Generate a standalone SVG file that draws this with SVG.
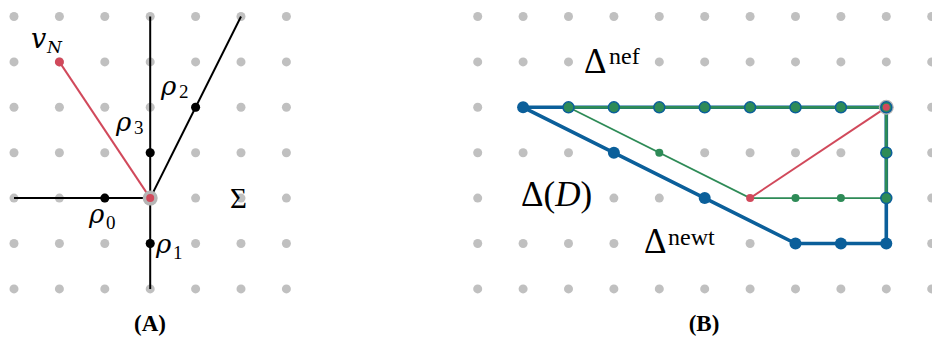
<svg xmlns="http://www.w3.org/2000/svg" width="932" height="338" viewBox="0 0 932 338">
<style>
.g{fill:#c0c0c0}
.blk{stroke:#000;stroke-width:2;fill:none}
.bl{stroke:#0b5f9a;stroke-width:3.6;fill:none;stroke-linejoin:round}
.gr{stroke:#2e8b57;stroke-width:2.8;fill:none}
.grt{stroke:#2e8b57;stroke-width:1.8;fill:none}
.rd{stroke:#d1495b;stroke-width:2;fill:none}
.bd{fill:#0b5f9a}
.gd{fill:#2e8b57;stroke:#0b5f9a;stroke-width:1.5}
.gs{fill:#2e8b57}
.rdd{fill:#d1495b}
.kd{fill:#000}
.halo{fill:#b5b5b5}
.m{font-family:"DejaVu Serif","Liberation Serif",serif;font-style:italic;fill:#000}
.r{font-family:"Liberation Serif","DejaVu Serif",serif;fill:#000}
.cap{font-family:"Liberation Serif","DejaVu Serif",serif;font-weight:bold;font-size:23px;text-anchor:middle;fill:#000}
</style>
<rect width="932" height="338" fill="#fff"/>
<g id="grid-A">
<circle class="g" cx="14" cy="16.5" r="4.5"/><circle class="g" cx="59.4" cy="16.5" r="4.5"/><circle class="g" cx="104.8" cy="16.5" r="4.5"/><circle class="g" cx="150.2" cy="16.5" r="4.5"/><circle class="g" cx="195.6" cy="16.5" r="4.5"/><circle class="g" cx="241" cy="16.5" r="4.5"/><circle class="g" cx="286.4" cy="16.5" r="4.5"/>
<circle class="g" cx="14" cy="61.9" r="4.5"/><circle class="g" cx="59.4" cy="61.9" r="4.5"/><circle class="g" cx="104.8" cy="61.9" r="4.5"/><circle class="g" cx="150.2" cy="61.9" r="4.5"/><circle class="g" cx="195.6" cy="61.9" r="4.5"/><circle class="g" cx="241" cy="61.9" r="4.5"/><circle class="g" cx="286.4" cy="61.9" r="4.5"/>
<circle class="g" cx="14" cy="107.3" r="4.5"/><circle class="g" cx="59.4" cy="107.3" r="4.5"/><circle class="g" cx="104.8" cy="107.3" r="4.5"/><circle class="g" cx="150.2" cy="107.3" r="4.5"/><circle class="g" cx="195.6" cy="107.3" r="4.5"/><circle class="g" cx="241" cy="107.3" r="4.5"/><circle class="g" cx="286.4" cy="107.3" r="4.5"/>
<circle class="g" cx="14" cy="152.7" r="4.5"/><circle class="g" cx="59.4" cy="152.7" r="4.5"/><circle class="g" cx="104.8" cy="152.7" r="4.5"/><circle class="g" cx="150.2" cy="152.7" r="4.5"/><circle class="g" cx="195.6" cy="152.7" r="4.5"/><circle class="g" cx="241" cy="152.7" r="4.5"/><circle class="g" cx="286.4" cy="152.7" r="4.5"/>
<circle class="g" cx="14" cy="198.1" r="4.5"/><circle class="g" cx="59.4" cy="198.1" r="4.5"/><circle class="g" cx="104.8" cy="198.1" r="4.5"/><circle class="g" cx="195.6" cy="198.1" r="4.5"/><circle class="g" cx="241" cy="198.1" r="4.5"/><circle class="g" cx="286.4" cy="198.1" r="4.5"/>
<circle class="g" cx="14" cy="243.5" r="4.5"/><circle class="g" cx="59.4" cy="243.5" r="4.5"/><circle class="g" cx="104.8" cy="243.5" r="4.5"/><circle class="g" cx="150.2" cy="243.5" r="4.5"/><circle class="g" cx="195.6" cy="243.5" r="4.5"/><circle class="g" cx="241" cy="243.5" r="4.5"/><circle class="g" cx="286.4" cy="243.5" r="4.5"/>
<circle class="g" cx="14" cy="288.9" r="4.5"/><circle class="g" cx="59.4" cy="288.9" r="4.5"/><circle class="g" cx="104.8" cy="288.9" r="4.5"/><circle class="g" cx="150.2" cy="288.9" r="4.5"/><circle class="g" cx="195.6" cy="288.9" r="4.5"/><circle class="g" cx="241" cy="288.9" r="4.5"/><circle class="g" cx="286.4" cy="288.9" r="4.5"/>
</g>
<g id="grid-B">
<circle class="g" cx="477.7" cy="16.5" r="4.5"/><circle class="g" cx="523.1" cy="16.5" r="4.5"/><circle class="g" cx="568.5" cy="16.5" r="4.5"/><circle class="g" cx="613.9" cy="16.5" r="4.5"/><circle class="g" cx="659.3" cy="16.5" r="4.5"/><circle class="g" cx="704.7" cy="16.5" r="4.5"/><circle class="g" cx="750.1" cy="16.5" r="4.5"/><circle class="g" cx="795.5" cy="16.5" r="4.5"/><circle class="g" cx="840.9" cy="16.5" r="4.5"/><circle class="g" cx="886.3" cy="16.5" r="4.5"/><circle class="g" cx="931.7" cy="16.5" r="4.5"/>
<circle class="g" cx="477.7" cy="61.9" r="4.5"/><circle class="g" cx="523.1" cy="61.9" r="4.5"/><circle class="g" cx="568.5" cy="61.9" r="4.5"/><circle class="g" cx="659.3" cy="61.9" r="4.5"/><circle class="g" cx="704.7" cy="61.9" r="4.5"/><circle class="g" cx="750.1" cy="61.9" r="4.5"/><circle class="g" cx="795.5" cy="61.9" r="4.5"/><circle class="g" cx="840.9" cy="61.9" r="4.5"/><circle class="g" cx="886.3" cy="61.9" r="4.5"/><circle class="g" cx="931.7" cy="61.9" r="4.5"/>
<circle class="g" cx="477.7" cy="107.3" r="4.5"/><circle class="g" cx="931.7" cy="107.3" r="4.5"/>
<circle class="g" cx="477.7" cy="152.7" r="4.5"/><circle class="g" cx="523.1" cy="152.7" r="4.5"/><circle class="g" cx="568.5" cy="152.7" r="4.5"/><circle class="g" cx="704.7" cy="152.7" r="4.5"/><circle class="g" cx="750.1" cy="152.7" r="4.5"/><circle class="g" cx="795.5" cy="152.7" r="4.5"/><circle class="g" cx="840.9" cy="152.7" r="4.5"/><circle class="g" cx="931.7" cy="152.7" r="4.5"/>
<circle class="g" cx="477.7" cy="198.1" r="4.5"/><circle class="g" cx="613.9" cy="198.1" r="4.5"/><circle class="g" cx="659.3" cy="198.1" r="4.5"/><circle class="g" cx="931.7" cy="198.1" r="4.5"/>
<circle class="g" cx="477.7" cy="243.5" r="4.5"/><circle class="g" cx="523.1" cy="243.5" r="4.5"/><circle class="g" cx="568.5" cy="243.5" r="4.5"/><circle class="g" cx="613.9" cy="243.5" r="4.5"/><circle class="g" cx="750.1" cy="243.5" r="4.5"/><circle class="g" cx="931.7" cy="243.5" r="4.5"/>
<circle class="g" cx="477.7" cy="288.9" r="4.5"/><circle class="g" cx="523.1" cy="288.9" r="4.5"/><circle class="g" cx="568.5" cy="288.9" r="4.5"/><circle class="g" cx="613.9" cy="288.9" r="4.5"/><circle class="g" cx="659.3" cy="288.9" r="4.5"/><circle class="g" cx="704.7" cy="288.9" r="4.5"/><circle class="g" cx="750.1" cy="288.9" r="4.5"/><circle class="g" cx="795.5" cy="288.9" r="4.5"/><circle class="g" cx="840.9" cy="288.9" r="4.5"/><circle class="g" cx="886.3" cy="288.9" r="4.5"/><circle class="g" cx="931.7" cy="288.9" r="4.5"/>
</g>
<g id="connectors">
<line class="blk" x1="14" y1="198.1" x2="150.2" y2="198.1"/>
<line class="blk" x1="150.2" y1="16.5" x2="150.2" y2="288.9"/>
<line class="blk" x1="150.2" y1="198.1" x2="241" y2="16.5"/>
<line class="rd" x1="59.4" y1="61.9" x2="150.2" y2="198.1"/>
<polygon class="bl" points="523.1,107.3 886.3,107.3 886.3,243.5 795.5,243.5"/>
<polyline class="gr" points="568.5,107.3 886.3,107.3 886.3,198.1"/>
<polyline class="grt" points="886.3,198.1 750.1,198.1 568.5,107.3"/>
<line class="rd" x1="750.1" y1="198.1" x2="886.3" y2="107.3"/>
</g>
<g id="center-A"><circle class="halo" cx="150.2" cy="198.1" r="7.5"/><circle class="rdd" cx="150.2" cy="198.1" r="4"/></g>
<g id="vN"><circle class="rdd" cx="59.4" cy="61.9" r="4.5"/></g>
<g id="rho0"><circle class="kd" cx="104.8" cy="198.1" r="4.5"/></g>
<g id="rho1"><circle class="kd" cx="150.2" cy="243.5" r="4.5"/></g>
<g id="rho2"><circle class="kd" cx="195.6" cy="107.3" r="4.5"/></g>
<g id="rho3"><circle class="kd" cx="150.2" cy="152.7" r="4.5"/></g>
<g id="newt-vertices">
<circle class="bd" cx="523.1" cy="107.3" r="6"/><circle class="bd" cx="613.9" cy="152.7" r="6"/><circle class="bd" cx="704.7" cy="198.1" r="6"/><circle class="bd" cx="795.5" cy="243.5" r="6"/><circle class="bd" cx="840.9" cy="243.5" r="6"/><circle class="bd" cx="886.3" cy="243.5" r="6"/>
</g>
<g id="nef-vertices">
<circle class="gd" cx="568.5" cy="107.3" r="5.5"/><circle class="gd" cx="613.9" cy="107.3" r="5.5"/><circle class="gd" cx="659.3" cy="107.3" r="5.5"/><circle class="gd" cx="704.7" cy="107.3" r="5.5"/><circle class="gd" cx="750.1" cy="107.3" r="5.5"/><circle class="gd" cx="795.5" cy="107.3" r="5.5"/><circle class="gd" cx="840.9" cy="107.3" r="5.5"/>
<circle class="gd" cx="886.3" cy="152.7" r="5.5"/><circle class="gd" cx="886.3" cy="198.1" r="5.5"/>
<circle class="gs" cx="659.3" cy="152.7" r="4"/><circle class="gs" cx="795.5" cy="198.1" r="4"/><circle class="gs" cx="840.9" cy="198.1" r="4"/>
</g>
<g id="corner-B"><circle class="halo" cx="886.3" cy="107.3" r="7.5"/><circle class="gd" cx="886.3" cy="107.3" r="5.5"/><circle class="rdd" cx="886.3" cy="107.3" r="3.5"/></g>
<g id="inner-B"><circle class="rdd" cx="750.1" cy="198.1" r="4"/></g>
<g id="labels">
<text class="m" font-size="27" x="31" y="48">v<tspan font-size="17" x="47" y="53">N</tspan></text>
<text class="m" font-size="26" x="161" y="95">ρ<tspan class="r" font-style="normal" font-size="19" x="179" y="98">2</tspan></text>
<text class="m" font-size="26" x="116" y="131">ρ<tspan class="r" font-style="normal" font-size="19" x="134" y="134">3</tspan></text>
<text class="m" font-size="26" x="89" y="223">ρ<tspan class="r" font-style="normal" font-size="19" x="106" y="229">0</tspan></text>
<text class="m" font-size="26" x="156" y="253">ρ<tspan class="r" font-style="normal" font-size="19" x="173" y="259">1</tspan></text>
<text class="r" font-size="29" x="230" y="208">Σ</text>
<text class="r" font-size="35" x="584" y="73">Δ<tspan font-size="24" x="609" y="64">nef</tspan></text>
<text class="r" font-size="35" x="521" y="206">Δ(<tspan font-style="italic">D</tspan>)</text>
<text class="r" font-size="35" x="644" y="253">Δ<tspan font-size="24" x="668" y="245">newt</tspan></text>
<text class="cap" x="150" y="331">(A)</text>
<text class="cap" x="704" y="331">(B)</text>
</g>
</svg>
